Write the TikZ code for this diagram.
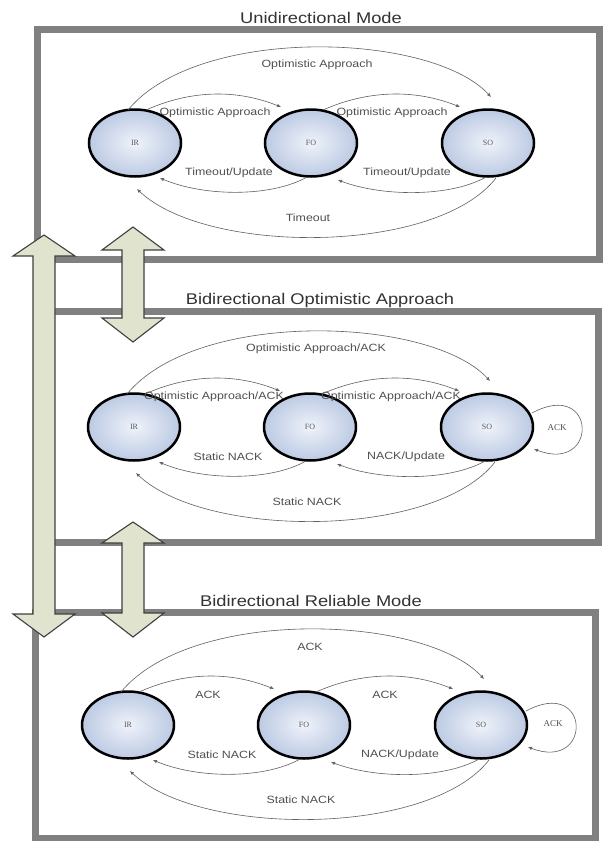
\documentclass[tikz,border=0pt]{standalone}
\usepackage{fontspec}
\setmainfont{Liberation Sans}[FakeStretch=1.18]
\newfontfamily\statefont{Liberation Serif}
\usetikzlibrary{arrows.meta,calc,shapes.geometric}

\definecolor{framegray}{HTML}{808080}
\definecolor{edgegray}{HTML}{606060}
\definecolor{labelgray}{HTML}{505050}
\definecolor{arrowfill}{HTML}{E0E3CD}
\definecolor{stateinner}{HTML}{EFF3FA}
\definecolor{stateouter}{HTML}{BCCAE3}

\tikzset{
  frame/.style={draw=framegray, line width=7pt},
  paneltitle/.style={font=\fontsize{15.5}{18}\selectfont, text=black!80, inner sep=0pt},
  state/.style={ellipse, draw=black, line width=2.5pt, minimum width=92pt,
    minimum height=67pt, inner sep=0pt, shading=radial, inner color=stateinner,
    outer color=stateouter, font=\statefont\fontsize{8}{9}\selectfont, text=black!65},
  edge/.style={draw=edgegray, line width=0.6pt, -{Latex[length=4pt,width=3.5pt]}},
  elabel/.style={font=\fontsize{10.5}{12}\selectfont, text=labelgray, inner sep=1pt},
  looplabel/.style={font=\statefont\fontsize{9}{10}\selectfont, text=labelgray, inner sep=1pt},
  bigarrow/.style={fill=arrowfill, draw=black!75, line width=1.1pt, line join=miter},
}

% one state machine: prefix, x and y of IR, then the six transition labels
\newcommand\statepanel[9]{%
  \node[state] (#1IR) at (#2,#3) {IR};
  \node[state] (#1FO) at ($(#1IR)+(176,0)$) {FO};
  \node[state] (#1SO) at ($(#1IR)+(353,0)$) {SO};
  \draw[edge] ($(#1IR)+(-7,-33)$) .. controls +(70,-85) and +(-60,-65) .. ($(#1SO)+(3,-46)$);
  \draw[edge] ($(#1IR)+(11,-33)$) .. controls +(45,-20) and +(-45,-18) .. ($(#1FO)+(-30,-36)$);
  \draw[edge] ($(#1FO)+(12,-33)$) .. controls +(45,-20) and +(-45,-18) .. ($(#1SO)+(-28,-36)$);
  \draw[edge] ($(#1FO)+(-4,34)$) .. controls +(-35,20) and +(45,19) .. ($(#1IR)+(25,35)$);
  \draw[edge] ($(#1SO)+(-2,34)$) .. controls +(-35,20) and +(45,17) .. ($(#1FO)+(27,37)$);
  \draw[edge] ($(#1SO)+(8,35)$) .. controls +(-60,77) and +(70,66) .. ($(#1IR)+(2,46)$);
  \node[elabel] (#1top) at ($(#1IR)+(182,-78)$) {#4};
  \node[elabel] (#1il) at ($(#1IR)+(80,-30)$) {#5};
  \node[elabel] (#1ir) at ($(#1IR)+(257,-30)$) {#6};
  \node[elabel] (#1ll) at ($(#1IR)+(94,30)$) {#7};
  \node[elabel] (#1lr) at ($(#1IR)+(272,30)$) {#8};
  \node[elabel] (#1bot) at ($(#1IR)+(173,75)$) {#9};
}

% double-headed block arrow: centre x, top tip, top head base, bottom head base, bottom tip
\newcommand\dblarrow[5]{%
  \filldraw[bigarrow] (#1,#2) -- ({#1+31},#3) -- ({#1+11},#3) -- ({#1+11},#4)
    -- ({#1+31},#4) -- (#1,#5) -- ({#1-31},#4) -- ({#1-11},#4) -- ({#1-11},#3)
    -- ({#1-31},#3) -- cycle;}

\begin{document}
\begin{tikzpicture}[x=1pt,y=-1pt]
  \useasboundingbox[fill=white] (0,0) rectangle (604,841);

  % mode frames
  \draw[frame] (37,29) rectangle (599,259);
  \draw[frame] (44,311) rectangle (598,542);
  \draw[frame] (35,612) rectangle (595,838);

  \node[paneltitle] (t1) at (321,18) {Unidirectional Mode};
  \node[paneltitle] (t2) at (320,300) {Bidirectional Optimistic Approach};
  \node[paneltitle] (t3) at (311,601) {Bidirectional Reliable Mode};

  % transitions between modes
  \dblarrow{44}{235}{256}{614}{637}
  \dblarrow{133}{227}{250}{318}{342}
  \dblarrow{133}{522}{543}{613}{637}

  \statepanel{u}{135}{143}{Optimistic Approach}{Optimistic Approach}{Optimistic Approach}%
    {Timeout/Update}{Timeout/Update}{Timeout}
  \statepanel{o}{134}{427}{Optimistic Approach/ACK}{Optimistic Approach/ACK}{Optimistic Approach/ACK}%
    {Static NACK}{NACK/Update}{Static NACK}
  \statepanel{r}{128}{725}{ACK}{ACK}{ACK}%
    {Static NACK}{NACK/Update}{Static NACK}

  % self-loops on SO
  \draw[edge] ($(oSO)+(45,-14)$) .. controls +(65,-35) and +(65,25) .. ($(oSO)+(47,22)$);
  \node[looplabel] (oack) at ($(oSO)+(70,1)$) {ACK};
  \draw[edge] ($(rSO)+(45,-14)$) .. controls +(65,-35) and +(65,25) .. ($(rSO)+(47,22)$);
  \node[looplabel] (rack) at ($(rSO)+(72,-1)$) {ACK};
\end{tikzpicture}
\end{document}
